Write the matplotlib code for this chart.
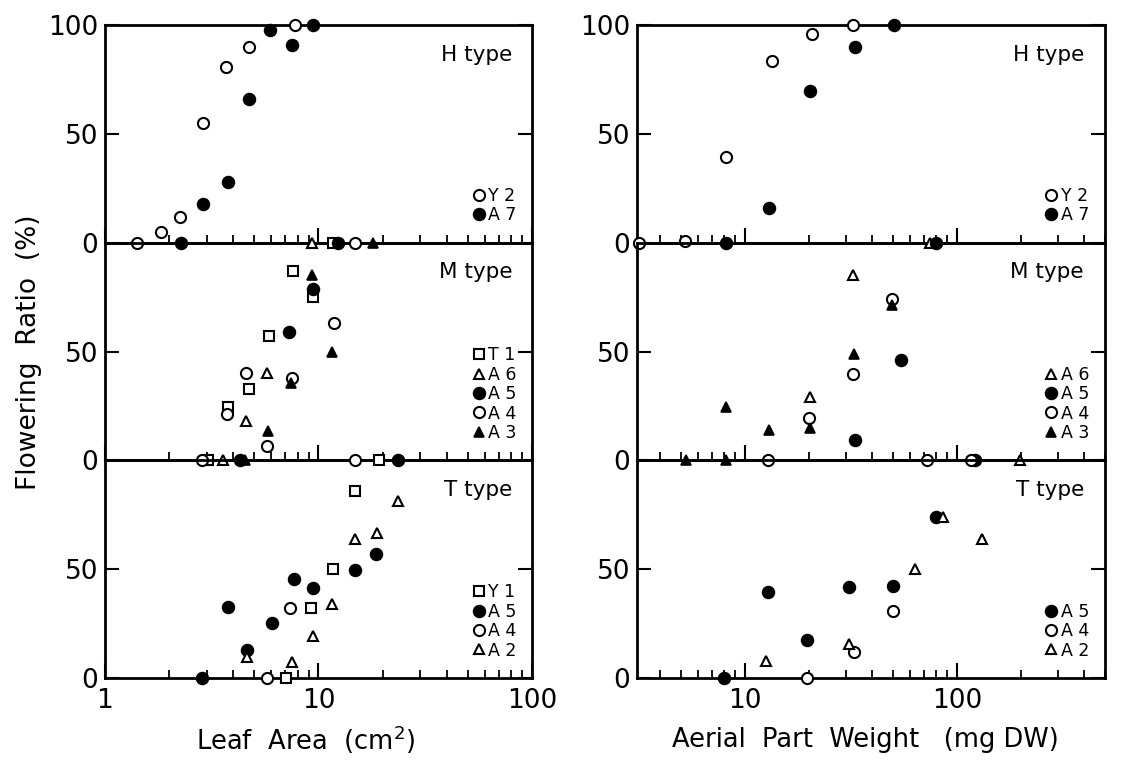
import matplotlib
matplotlib.use("Agg")
import matplotlib.pyplot as plt
from matplotlib.ticker import LogLocator, NullFormatter, FixedLocator, FixedFormatter

# ---- Leaf area panels (left) ----
la_H_Y2_x = [1.42, 1.83, 2.25, 2.89, 3.68, 4.75, 7.8]
la_H_Y2_y = [0, 5, 12, 55, 81, 90, 100]
la_H_A7_x = [2.27, 2.89, 3.76, 4.73, 5.94, 7.5, 9.48]
la_H_A7_y = [0, 18, 28, 66, 98, 91, 100]

la_M_T1_x = [3.05, 3.76, 4.73, 5.87, 7.63, 9.41, 11.7]
la_M_T1_y = [0, 24.5, 33, 57, 87, 75, 100]
la_M_A6_x = [3.56, 4.56, 5.77, 9.31]
la_M_A6_y = [0, 18, 40, 100]
la_M_A5_x = [4.29, 7.31, 9.41, 12.4]
la_M_A5_y = [0, 59, 79, 100]
la_M_A4_x = [2.84, 3.72, 4.58, 5.77, 7.5, 11.85, 14.8]
la_M_A4_y = [0, 21.5, 40, 6.5, 38, 63, 100]
la_M_A3_x = [4.53, 5.83, 7.45, 9.31, 11.55, 18.1]
la_M_A3_y = [0, 13.5, 35.5, 85, 50, 100]

la_T_Y1_x = [7.03, 9.21, 11.7, 14.86, 19.3]
la_T_Y1_y = [0, 32, 50, 86, 100]
la_T_A5_x = [2.84, 3.76, 4.65, 6.04, 7.69, 9.48, 14.86, 18.6, 23.5]
la_T_A5_y = [0, 32.5, 13, 25.5, 45.5, 41.5, 49.5, 57, 100]
la_T_A4_x = [5.73, 7.37, 14.8]
la_T_A4_y = [0, 32, 100]
la_T_A2_x = [4.65, 7.5, 9.48, 11.55, 14.86, 18.9, 23.7]
la_T_A2_y = [9.5, 7.5, 19.5, 34, 64, 66.5, 81.5]

# ---- Aerial part weight panels (right) ----
aw_H_Y2_x = [3.16, 5.23, 8.12, 13.4, 20.8, 32.3]
aw_H_Y2_y = [0, 1, 39.5, 83.5, 96, 100]
aw_H_A7_x = [8.15, 12.96, 20.3, 33.2, 50.6]
aw_H_A7_y = [0, 16, 70, 90, 100]

aw_M_A6_x = [20.3, 32.3, 75, 199]
aw_M_A6_y = [29, 85, 100, 0]
aw_M_A5_x = [33.2, 54.8, 80, 122]
aw_M_A5_y = [9.5, 46, 100, 0]
aw_M_A4_x = [12.9, 20.1, 32.3, 49.7, 72.6, 117]
aw_M_A4_y = [0, 19.5, 39.5, 74, 0, 0]
aw_M_A3_x = [5.28, 8.14, 8.14, 12.96, 20.3, 32.6, 49.7]
aw_M_A3_y = [0, 0, 24.5, 14, 15, 49, 71.5]

aw_T_A5_x = [7.97, 12.86, 19.7, 31.1, 50.1, 80]
aw_T_A5_y = [0, 39.5, 17.5, 42, 42.5, 74]
aw_T_A4_x = [19.7, 32.6, 50.1]
aw_T_A4_y = [0, 12, 31]
aw_T_A2_x = [12.6, 31.1, 63.5, 86, 131.5]
aw_T_A2_y = [8, 15.5, 50, 74, 64]

# marker styles per line name
styles = {
    "open_circle": dict(marker="o", mfc="white", mec="black", ms=8, mew=1.5),
    "filled_circle": dict(marker="o", mfc="black", mec="black", ms=8.5, mew=1.2),
    "open_square": dict(marker="s", mfc="white", mec="black", ms=7, mew=1.5),
    "open_tri": dict(marker="^", mfc="white", mec="black", ms=7, mew=1.5),
    "filled_tri": dict(marker="^", mfc="black", mec="black", ms=7.5, mew=1.2),
}

panels_left = [
    ("H type", [("Y 2", la_H_Y2_x, la_H_Y2_y, "open_circle"),
                ("A 7", la_H_A7_x, la_H_A7_y, "filled_circle")]),
    ("M type", [("T 1", la_M_T1_x, la_M_T1_y, "open_square"),
                ("A 6", la_M_A6_x, la_M_A6_y, "open_tri"),
                ("A 5", la_M_A5_x, la_M_A5_y, "filled_circle"),
                ("A 4", la_M_A4_x, la_M_A4_y, "open_circle"),
                ("A 3", la_M_A3_x, la_M_A3_y, "filled_tri")]),
    ("T type", [("Y 1", la_T_Y1_x, la_T_Y1_y, "open_square"),
                ("A 5", la_T_A5_x, la_T_A5_y, "filled_circle"),
                ("A 4", la_T_A4_x, la_T_A4_y, "open_circle"),
                ("A 2", la_T_A2_x, la_T_A2_y, "open_tri")]),
]
panels_right = [
    ("H type", [("Y 2", aw_H_Y2_x, aw_H_Y2_y, "open_circle"),
                ("A 7", aw_H_A7_x, aw_H_A7_y, "filled_circle")]),
    ("M type", [("A 6", aw_M_A6_x, aw_M_A6_y, "open_tri"),
                ("A 5", aw_M_A5_x, aw_M_A5_y, "filled_circle"),
                ("A 4", aw_M_A4_x, aw_M_A4_y, "open_circle"),
                ("A 3", aw_M_A3_x, aw_M_A3_y, "filled_tri")]),
    ("T type", [("A 5", aw_T_A5_x, aw_T_A5_y, "filled_circle"),
                ("A 4", aw_T_A4_x, aw_T_A4_y, "open_circle"),
                ("A 2", aw_T_A2_x, aw_T_A2_y, "open_tri")]),
]

fig = plt.figure(figsize=(11.31, 7.65), dpi=100)

bottom, top = 0.1137, 0.967
h = (top - bottom) / 3


def draw_column(left, width, panels, xlim, xticks, xticklabels):
    for i, (title, series) in enumerate(panels):
        ax = fig.add_axes([left, top - (i + 1) * h, width, h])
        ax.patch.set_visible(False)
        ax.set_xscale("log")
        ax.set_xlim(*xlim)
        ax.set_ylim(0, 100)
        for label, x, y, st in series:
            ax.plot(x, y, ls="none", clip_on=False, zorder=5, label=label, **styles[st])
        for s in ax.spines.values():
            s.set_linewidth(2)
        ax.xaxis.set_major_locator(FixedLocator(xticks))
        ax.xaxis.set_minor_locator(LogLocator(base=10, subs=range(2, 10)))
        ax.xaxis.set_minor_formatter(NullFormatter())
        if i == 2:
            ax.xaxis.set_major_formatter(FixedFormatter(xticklabels))
        else:
            ax.xaxis.set_major_formatter(NullFormatter())
        ax.tick_params(axis="x", which="major", direction="in", length=11, width=1.5,
                       labelsize=19, pad=7)
        ax.tick_params(axis="x", which="minor", direction="in", length=6, width=1.3)
        if i == 0:
            ax.set_yticks([0, 50, 100])
        else:
            ax.set_yticks([0, 50])
        ax.tick_params(axis="y", direction="in", length=10, width=1.5, left=True,
                       right=True, labelsize=19, pad=5)
        ax.text(0.955, 0.865, title, transform=ax.transAxes, ha="right", va="center",
                fontsize=15.5)
        ax.legend(loc="lower right", bbox_to_anchor=(0.985, 0.045), frameon=False,
                  fontsize=12.5, handlelength=0.6, handletextpad=0.25, labelspacing=0.08,
                  borderaxespad=0.3, borderpad=0.2)
    return ax


draw_column(0.0928, 0.3775, panels_left, (1, 100), [1, 10, 100], ["1", "10", "100"])
draw_column(0.5632, 0.4138, panels_right, (3.1, 500), [10, 100], ["10", "100"])

fig.text(0.026, 0.54, "Flowering  Ratio  (%)", rotation=90, ha="center", va="center",
         fontsize=19)
fig.text(0.27, 0.033, "Leaf  Area  (cm$^2$)", ha="center", va="center", fontsize=18.5)
fig.text(0.765, 0.033, "Aerial  Part  Weight   (mg DW)", ha="center", va="center",
         fontsize=18.5)

fig.savefig("out.png", dpi=100)
